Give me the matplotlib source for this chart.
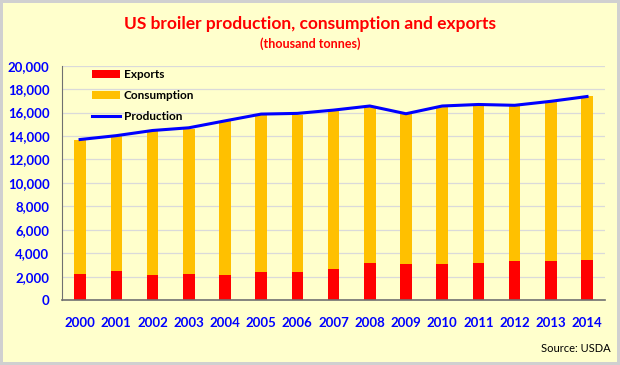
import matplotlib.pyplot as plt
from matplotlib.ticker import FuncFormatter

years = ['2000', '2001', '2002', '2003', '2004', '2005', '2006', '2007',
         '2008', '2009', '2010', '2011', '2012', '2013', '2014']
exports = [2230, 2520, 2170, 2230, 2150, 2360, 2360, 2690,
           3160, 3100, 3070, 3160, 3300, 3350, 3400]
consumption = [11450, 11440, 12230, 12390, 13090, 13430, 13460, 13410,
               13310, 12780, 13450, 13500, 13280, 13570, 14020]
production = [13700, 14030, 14470, 14700, 15290, 15870, 15930, 16210,
              16560, 15900, 16560, 16690, 16620, 16960, 17370]

plt.rcParams['font.family'] = ['Lato', 'DejaVu Sans']

fig = plt.figure(figsize=(6.2, 3.65), dpi=100)
fig.patch.set_facecolor('#FFFFCC')
fig.patch.set_edgecolor('#D0D0D0')
fig.patch.set_linewidth(4)

ax = fig.add_axes([0.1, 0.178, 0.876, 0.642])
ax.set_facecolor('#FFFFCC')

x = list(range(len(years)))
b1 = ax.bar(x, exports, width=0.32, color='#FF0000', label='Exports', zorder=2)
b2 = ax.bar(x, consumption, width=0.32, bottom=exports, color='#FFC000',
            label='Consumption', zorder=2)
ln, = ax.plot(x, production, color='#0000FF', lw=2.2, label='Production', zorder=3)

ax.set_xlim(-0.5, 14.5)
ax.set_ylim(0, 20000)
ax.set_yticks(range(0, 20001, 2000))
ax.yaxis.set_major_formatter(FuncFormatter(lambda v, p: f'{int(v):,}'))
ax.set_xticks(x)
ax.set_xticklabels(years)
ax.grid(axis='y', color='#DADADA', lw=0.9, zorder=0)
ax.tick_params(length=0, labelsize=9.5, labelcolor='#0000FF', pad=12)
ax.tick_params(axis='y', pad=9)
for lab in ax.get_xticklabels() + ax.get_yticklabels():
    lab.set_fontweight('bold')

for s in ['top', 'right']:
    ax.spines[s].set_visible(False)
ax.spines['left'].set_color('#707070')
ax.spines['bottom'].set_color('#707070')
ax.spines['bottom'].set_linewidth(1.2)

ax.legend([b1, b2, ln], ['Exports', 'Consumption', 'Production'],
          loc='upper left', bbox_to_anchor=(0.035, 1.03), frameon=False,
          handlelength=2.4, handleheight=0.6, labelspacing=0.85,
          handletextpad=0.3, prop={'weight': 'bold', 'size': 8.5})

fig.text(0.5, 0.935, 'US broiler production, consumption and exports',
         ha='center', va='center', color='#FF0000', fontsize=12.5, fontweight='bold')
fig.text(0.5, 0.88, '(thousand tonnes)', ha='center', va='center',
         color='#FF0000', fontsize=9, fontweight='bold')
fig.text(0.985, 0.045, 'Source: USDA', ha='right', va='center', fontsize=8)

fig.savefig('out.png', dpi=100, facecolor=fig.get_facecolor(),
            edgecolor=fig.get_edgecolor())
